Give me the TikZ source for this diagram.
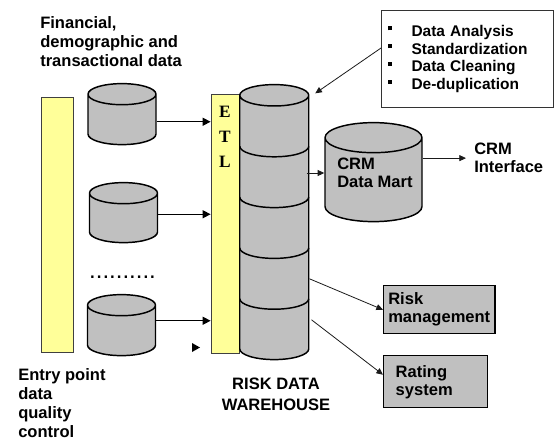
\documentclass[tikz,border=0pt]{standalone}
\usepackage{fontspec}
\setmainfont{Liberation Sans}
\newfontfamily\etlfont{Liberation Serif}
\usepackage{xcolor}
\definecolor{dwGray}{HTML}{C0C0C0}
\definecolor{dwYellow}{HTML}{FFFF99}
\definecolor{dwLine}{HTML}{1A1A1A}
\usetikzlibrary{shapes.geometric,arrows.meta,calc}
\tikzset{
    bar/.style={
        draw=black!75,
        fill=dwYellow,
        rectangle,
        inner sep=0pt,
        line width=0.6pt
    },
    database/.style={
        draw=black,
        fill=dwGray,
        cylinder,
        shape border rotate=90,
        aspect=0.31,
        inner sep=0pt,
        line width=1.1pt
    },
    outbox/.style={
        draw=black,
        fill=dwGray,
        rectangle,
        anchor=north west,
        align=left,
        line width=1.1pt,
        font=\bfseries\fontsize{12.4}{13.5}\selectfont
    },
    caption/.style={
        align=left,
        inner sep=0pt,
        font=\bfseries\fontsize{12.4}{14.3}\selectfont
    },
    feed/.style={
        -{Triangle[length=6pt,width=6pt]},
        line width=1.1pt,
        color=black
    },
    link/.style={
        -{Triangle[length=5pt,width=4.5pt]},
        line width=0.6pt,
        color=dwLine
    }
}
\newcommand{\sqbul}{\makebox[18pt][l]{\rule[4.5pt]{3pt}{3pt}}}

\begin{document}
\begin{tikzpicture}[x=0.75pt,y=-0.75pt]
    \useasboundingbox (0,0) rectangle (555,439);

    % Sources
    \node[caption, anchor=north west] (sources) at (40,16)
        {Financial,\\demographic and\\transactional data};
    \node[bar, minimum width=24pt, minimum height=191.25pt] (entry) at (57.5,224.5) {};
    \node[caption, anchor=north west] (entrytxt) at (18,368)
        {Entry point\\data\\quality\\control};

    \node[database, text width=51pt, minimum height=45.75pt] (db1) at (122,119.75) {};
    \node[database, text width=51pt, minimum height=45pt] (db2) at (123.5,218.25) {};
    \node[database, text width=51pt, minimum height=45.75pt] (db3) at (121.5,330.75) {};
    \node[anchor=base, inner sep=0pt, font=\fontsize{18}{18}\selectfont] (gap) at (122.5,278) {..........};

    % ETL and warehouse
    \node[bar, minimum width=21pt, minimum height=194.25pt] (etl) at (225,223.5) {};
    \node[anchor=north, inner sep=0pt, align=center,
          font=\etlfont\bfseries\fontsize{13}{18.75}\selectfont] (etltxt) at ($(etl.north)+(0,12.5)$) {E\\T\\L};

    \node[database, text width=51.75pt, minimum height=206.25pt] (wh) at (274.25,227.8) {};
    \foreach \dy in {-81.5,-30.7,20.1,70.9}
        \draw[line width=1.1pt] ($(wh.center)+(-34.5,\dy)$) arc[start angle=180, end angle=0, x radius=34.5, y radius=10.5];
    \node[caption, align=center, anchor=north, font=\bfseries\fontsize{12.4}{15.75}\selectfont] (whtxt) at (276,378)
        {RISK DATA\\WAREHOUSE};

    % Targets
    \node[draw=black!80, line width=0.8pt, anchor=north west, text width=120pt, inner xsep=4.5pt, minimum height=72.75pt,
          align=left, font=\bfseries\fontsize{11.6}{13.3}\selectfont] (steps) at (381,10)
        {\sqbul Data Analysis\\\sqbul Standardization\\\sqbul Data Cleaning\\\sqbul De-duplication};

    \node[database, text width=72.75pt, minimum height=74.25pt] (mart) at (373.5,180) {};
    \node[caption, anchor=north west, font=\bfseries\fontsize{12.4}{13.5}\selectfont] (marttxt) at (337,158) {CRM\\Data Mart};
    \node[caption, anchor=north west, font=\bfseries\fontsize{12.4}{13.5}\selectfont] (crmif) at (474,143) {CRM\\Interface};

    \node[outbox, text width=76.5pt, inner xsep=3.4pt, minimum height=36pt] (risk) at (383,285) {Risk\\management};
    \node[outbox, text width=60pt, inner xsep=9pt, minimum height=39pt] (rating) at (383,355) {Rating\\system};

    % Arrows
    \draw[feed] ($(db1.east)+(0,2)$) -- ($(db1.east -| etl.west)+(0,2)$);
    \draw[feed] ($(db2.east)+(0,-4)$) -- ($(db2.east -| etl.west)+(0,-4)$);
    \draw[feed] ($(db3.east)+(0,-10)$) -- ($(db3.east -| etl.west)+(0,-10)$);
    \fill (192,343) -- (200,347.5) -- (192,352) -- cycle;

    \draw[link] ($(wh.east |- mart.west)+(-3,-7)$) -- ($(mart.west)+(0,-7)$);
    \draw[link, shorten >=6pt] (crmif.west -| mart.east) -- (crmif.west);
    \draw[link] ($(wh.east)+(0,51)$) -- (risk.west);
    \draw[link] ($(wh.east)+(2,92)$) -- ($(rating.west)+(0,-7)$);
    \draw[link] ($(steps.west)+(0,-11)$) -- ($(wh.north)+(41,9.5)$);
\end{tikzpicture}
\end{document}
